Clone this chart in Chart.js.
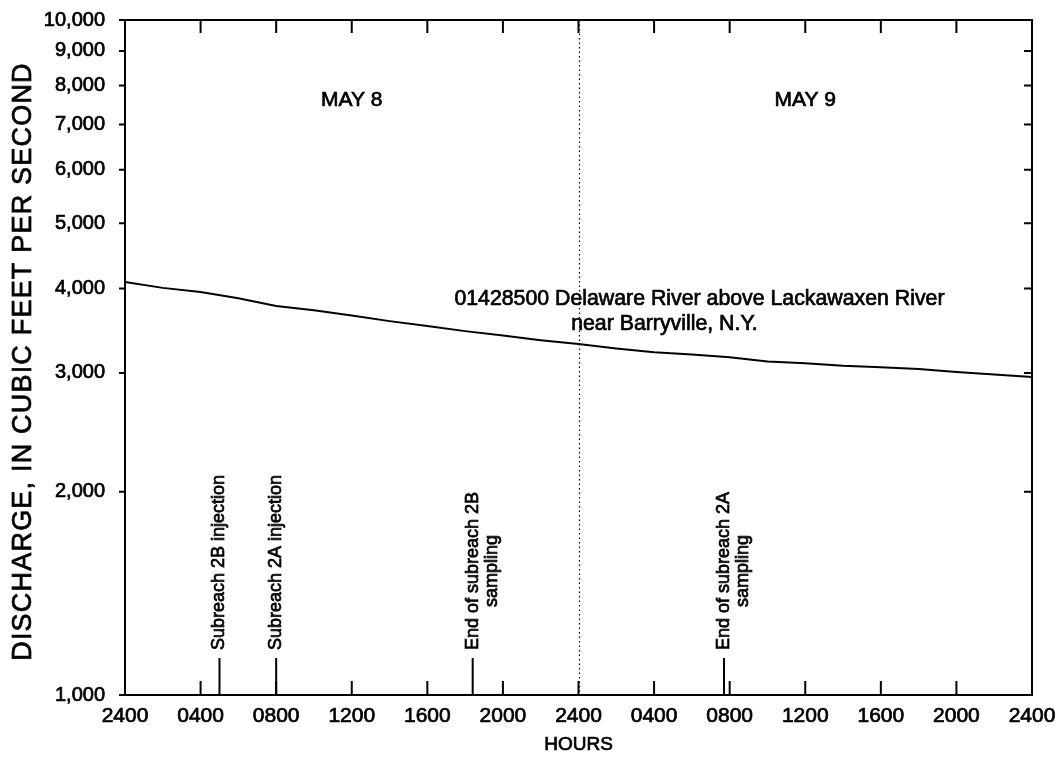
<!DOCTYPE html>
<html>
<head>
<meta charset="utf-8">
<script src="https://cdn.jsdelivr.net/npm/chart.js@4.4.0/dist/chart.umd.min.js"></script>
<style>
    body { margin: 0; background: #fff; }
    canvas { display: block; }
</style>
</head>
<body>
<canvas id="chartCanvas" width="1058" height="761"></canvas>
<script>
// Hours from midnight starting May 8, discharge in cubic feet per second
const hours = [0, 2, 4, 6, 8, 10, 12, 14, 16, 18, 20, 22, 24, 26, 28, 30, 32, 34, 36, 38, 40, 42, 44, 46, 48];
const discharge = [4090, 4010, 3955, 3870, 3770, 3715, 3650, 3580, 3520, 3460, 3410, 3355, 3310,
                   3260, 3220, 3195, 3165, 3120, 3100, 3075, 3060, 3040, 3010, 2985, 2960];

const hourTicks = [0, 4, 8, 12, 16, 20, 24, 28, 32, 36, 40, 44, 48];
const hourLabels = ["2400", "0400", "0800", "1200", "1600", "2000", "2400", "0400", "0800", "1200", "1600", "2000", "2400"];
const dischargeTicks = [1000, 2000, 3000, 4000, 5000, 6000, 7000, 8000, 9000, 10000];

// Dye injection / sampling times
const eventHours = [5, 8, 18.4, 31.7];
const eventLabels = [
    ["Subreach 2B injection"],
    ["Subreach 2A injection"],
    ["End of subreach 2B", "sampling"],
    ["End of subreach 2A", "sampling"]
];

const dayHours = [12, 36];
const dayLabels = ["MAY 8", "MAY 9"];

const stationLines = ["01428500 Delaware River above Lackawaxen River", "near Barryville, N.Y."];
const yTitle = "DISCHARGE, IN CUBIC FEET PER SECOND";
const xTitle = "HOURS";

const FONT = "'Liberation Sans', Arial, Helvetica, sans-serif";
const INK = 0.7; // thickens glyphs a little, like printed type

function inkText(ctx, text, x, y) {
    ctx.fillText(text, x, y);
    ctx.strokeText(text, x, y);
}

// Frame, inward ticks, midnight divider and the text notes
const annotations = {
    id: "annotations",
    afterDatasetsDraw(chart) {
        const { ctx, chartArea: a, scales: { x, y } } = chart;
        ctx.save();
        ctx.strokeStyle = "#000";
        ctx.fillStyle = "#000";

        // dotted line at midnight
        const mid = Math.round(x.getPixelForValue(24)) + 0.5;
        ctx.lineWidth = 1.2;
        ctx.setLineDash([1.5, 3]);
        ctx.beginPath();
        ctx.moveTo(mid, a.top);
        ctx.lineTo(mid, a.bottom);
        ctx.stroke();
        ctx.setLineDash([]);

        ctx.lineWidth = 2;
        ctx.strokeRect(a.left, a.top, a.right - a.left, a.bottom - a.top);

        ctx.beginPath();
        hourTicks.forEach(h => {
            const px = x.getPixelForValue(h);
            ctx.moveTo(px, a.bottom);
            ctx.lineTo(px, a.bottom - 14);
            ctx.moveTo(px, a.top);
            ctx.lineTo(px, a.top + 13);
        });
        dischargeTicks.forEach(v => {
            const py = y.getPixelForValue(v);
            ctx.moveTo(a.left - 6, py);
            ctx.lineTo(a.left, py);
            ctx.moveTo(a.right - 8, py);
            ctx.lineTo(a.right, py);
        });
        ctx.stroke();

        // event markers with vertical labels
        ctx.font = "18px " + FONT;
        eventHours.forEach((h, i) => {
            const px = x.getPixelForValue(h);
            ctx.lineWidth = 2;
            ctx.beginPath();
            ctx.moveTo(px, a.bottom);
            ctx.lineTo(px, a.bottom - 37);
            ctx.stroke();

            const lines = eventLabels[i];
            const w = Math.max(...lines.map(t => ctx.measureText(t).width));
            ctx.save();
            ctx.translate(px, a.bottom - 45);
            ctx.rotate(-Math.PI / 2);
            ctx.textAlign = "center";
            ctx.textBaseline = "middle";
            ctx.lineWidth = INK;
            lines.forEach((t, j) => inkText(ctx, t, w / 2, j * 19));
            ctx.restore();
        });

        ctx.lineWidth = INK;
        ctx.font = "21px " + FONT;
        ctx.textAlign = "center";
        ctx.textBaseline = "middle";
        dayHours.forEach((h, i) => {
            inkText(ctx, dayLabels[i], x.getPixelForValue(h), a.top + 80);
        });

        // station name
        ctx.font = "21.3px " + FONT;
        inkText(ctx, stationLines[0], x.getPixelForValue(30.4), a.top + 279);
        inkText(ctx, stationLines[1], x.getPixelForValue(28.55), a.top + 304);

        // x axis title
        ctx.font = "19px " + FONT;
        inkText(ctx, xTitle, (a.left + a.right) / 2, 745);

        // y axis title, drawn here so the letters can be spaced out
        ctx.save();
        ctx.font = "27px " + FONT;
        if ("letterSpacing" in ctx) ctx.letterSpacing = "1.2px";
        ctx.translate(24, (a.top + a.bottom) / 2 + 4);
        ctx.rotate(-Math.PI / 2);
        inkText(ctx, yTitle, 0, 0);
        ctx.restore();

        ctx.restore();
    }
};

const ctx = document.getElementById("chartCanvas").getContext("2d");

new Chart(ctx, {
    type: "line",
    data: {
        datasets: [{
            label: stationLines[0],
            data: hours.map((h, i) => ({ x: h, y: discharge[i] })),
            borderColor: "#000",
            borderWidth: 2,
            pointRadius: 0,
            tension: 0,
            fill: false
        }]
    },
    options: {
        responsive: false,
        animation: false,
        devicePixelRatio: 1,
        layout: {
            padding: { top: 20, right: 26, left: 0, bottom: 0 }
        },
        plugins: {
            legend: { display: false },
            tooltip: { enabled: false }
        },
        scales: {
            x: {
                type: "linear",
                min: 0,
                max: 48,
                grid: { display: false },
                border: { display: false },
                afterBuildTicks: scale => {
                    scale.ticks = hourTicks.map(v => ({ value: v }));
                },
                afterFit: scale => {
                    scale.height = 66;
                    scale.paddingLeft = 0;
                    scale.paddingRight = 0;
                },
                ticks: {
                    autoSkip: false,
                    maxRotation: 0,
                    padding: 1,
                    color: "#000",
                    textStrokeColor: "#000",
                    textStrokeWidth: INK,
                    font: { family: FONT, size: 21 },
                    callback: (v, i) => hourLabels[i]
                }
            },
            y: {
                type: "logarithmic",
                min: 1000,
                max: 10000,
                grid: { display: false },
                border: { display: false },
                afterBuildTicks: scale => {
                    scale.ticks = dischargeTicks.map(v => ({ value: v }));
                },
                afterFit: scale => {
                    scale.width = 125;
                    scale.paddingTop = 0;
                    scale.paddingBottom = 0;
                },
                ticks: {
                    padding: 12,
                    color: "#000",
                    textStrokeColor: "#000",
                    textStrokeWidth: INK,
                    font: { family: FONT, size: 20 },
                    callback: v => v.toLocaleString("en-US")
                }
            }
        }
    },
    plugins: [annotations]
});
</script>
</body>
</html>
